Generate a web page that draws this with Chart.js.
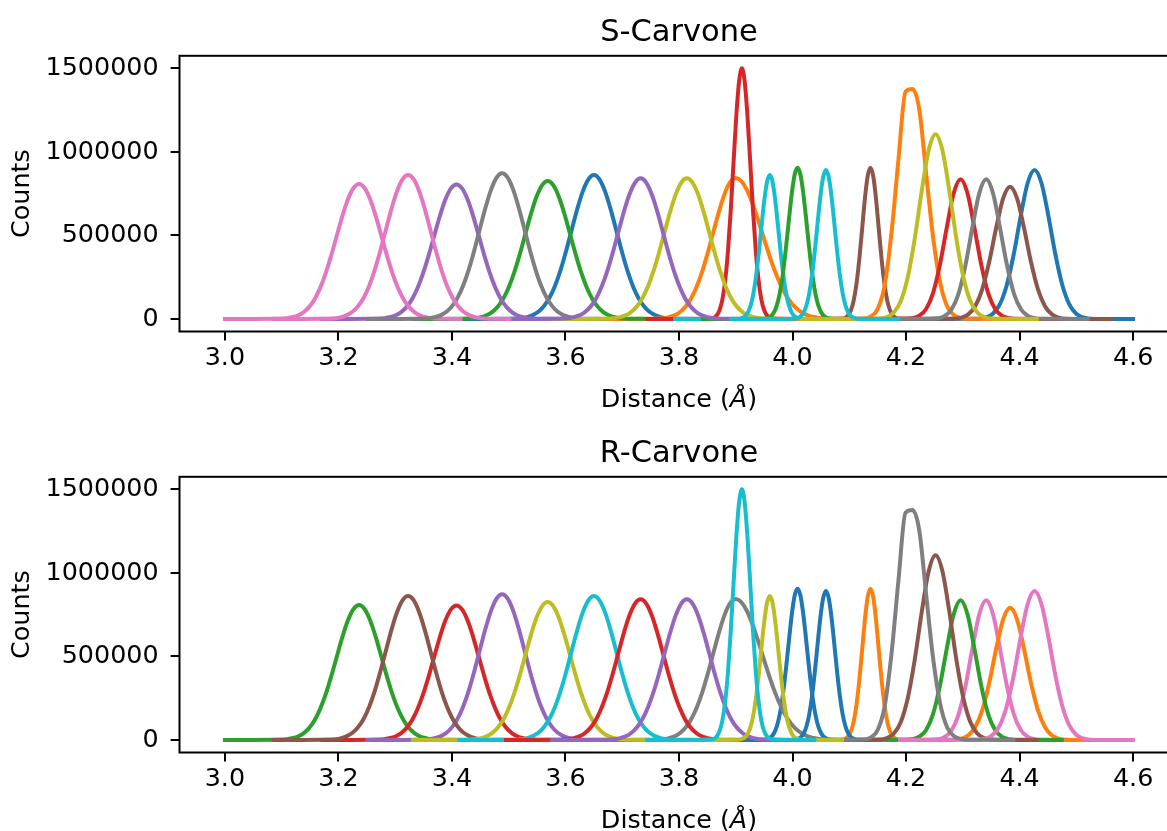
<!DOCTYPE html>
<html>
<head>
<meta charset="utf-8">
<title>S-Carvone / R-Carvone distance histograms</title>
<script src="https://cdn.jsdelivr.net/npm/chart.js@4.4.1/dist/chart.umd.min.js"></script>
<style>
  html, body { margin: 0; padding: 0; background: #fff; width: 1167px; height: 831px; overflow: hidden; }
  canvas { position: absolute; left: 0; }
  #sChart { top: 0; }
  #rChart { top: 421px; }
</style>
</head>
<body>
<canvas id="sChart" width="1200" height="421"></canvas>
<canvas id="rChart" width="1200" height="421"></canvas>
<script>
// ==========================================
// DATA: distance histograms, one curve per atom pair
// ==========================================
// first bin centre (Å) and bin width of every curve
const binStart = [3.1090, 3.1953, 3.2806, 3.3610, 3.4413, 3.5227, 3.6050, 3.6864, 3.7725, 3.8569,
                  3.9060, 3.9501, 4.0050, 4.0883, 4.1255, 4.1540, 4.1981, 4.2432, 4.2853, 4.3284];
const binStep = [0.0098, 0.0098, 0.0098, 0.0098, 0.0098, 0.0098, 0.0098, 0.0098, 0.0098, 0.0049,
                 0.0049, 0.0049, 0.0049, 0.0049, 0.01225, 0.01225, 0.01225, 0.01225, 0.01225, 0.01225];
// where the flat zero tails of each curve begin and end (Å)
const lineFrom = [3.0000, 3.0856, 3.1708, 3.2512, 3.3316, 3.4129, 3.4953, 3.5766, 3.6629, 3.7442,
                  3.7932, 3.8422, 3.8922, 3.9706, 3.9736, 4.0148, 4.0589, 4.1040, 4.1461, 4.1893];
const lineTo = [3.4149, 3.5011, 3.5864, 3.6668, 3.7472, 3.8285, 3.9109, 3.9922, 4.0785, 4.0383,
                4.0873, 4.1363, 4.1863, 4.2647, 4.3892, 4.4304, 4.4745, 4.5196, 4.5617, 4.6000];

// counts per bin
const counts01 = [5000, 11000, 21000, 40000, 71000, 118000, 186000, 274000, 382000, 500000, 617000, 717000, 784000, 808000, 783000, 716000, 616000, 499000, 381000, 273000, 185000, 118000, 71000, 40000, 21000, 11000, 5000];
const counts02 = [5000, 11000, 23000, 43000, 76000, 126000, 198000, 293000, 407000, 533000, 658000, 764000, 836000, 862000, 837000, 765000, 659000, 534000, 408000, 293000, 199000, 127000, 76000, 43000, 23000, 11000, 5000];
const counts03 = [5000, 11000, 21000, 40000, 71000, 118000, 185000, 274000, 381000, 499000, 615000, 715000, 782000, 806000, 782000, 715000, 616000, 499000, 381000, 274000, 186000, 118000, 71000, 40000, 21000, 11000, 5000];
const counts04 = [5000, 12000, 23000, 43000, 77000, 128000, 201000, 296000, 412000, 540000, 666000, 773000, 846000, 872000, 846000, 773000, 665000, 539000, 411000, 296000, 200000, 128000, 77000, 43000, 23000, 12000, 5000];
const counts05 = [5000, 11000, 22000, 41000, 73000, 121000, 190000, 281000, 390000, 511000, 631000, 733000, 802000, 826000, 801000, 732000, 630000, 510000, 390000, 280000, 190000, 121000, 73000, 41000, 22000, 11000, 5000];
const counts06 = [5000, 11000, 23000, 43000, 76000, 127000, 198000, 292000, 407000, 533000, 658000, 764000, 836000, 862000, 836000, 764000, 658000, 533000, 407000, 292000, 198000, 126000, 76000, 43000, 23000, 11000, 5000];
const counts07 = [5000, 11000, 22000, 42000, 74000, 123000, 194000, 286000, 398000, 521000, 643000, 747000, 817000, 842000, 817000, 747000, 643000, 521000, 398000, 286000, 194000, 123000, 74000, 42000, 22000, 11000, 5000];
const counts08 = [5000, 11000, 22000, 42000, 74000, 124000, 194000, 286000, 397000, 520000, 642000, 746000, 817000, 842000, 818000, 748000, 644000, 522000, 398000, 286000, 193000, 123000, 74000, 42000, 22000, 11000, 5000];
const counts09 = [5000, 11000, 22000, 42000, 74000, 124000, 194000, 287000, 399000, 522000, 644000, 749000, 819000, 844000, 826000, 774000, 694000, 596000, 490000, 386000, 291000, 210000, 145000, 96000, 61000, 37000, 21000, 12000, 6000, 3000];
const counts10 = [3000, 8000, 22000, 54000, 117000, 231000, 408000, 652000, 939000, 1218000, 1423000, 1501000, 1422000, 1217000, 938000, 651000, 407000, 230000, 116000, 53000, 22000, 8000, 3000];
const counts11 = [2000, 6000, 15000, 35000, 74000, 142000, 247000, 387000, 549000, 706000, 820000, 862000, 821000, 707000, 550000, 388000, 248000, 143000, 75000, 35000, 15000, 6000, 2000];
const counts12 = [2000, 5000, 12000, 27000, 57000, 109000, 191000, 307000, 453000, 613000, 762000, 868000, 906000, 867000, 761000, 612000, 452000, 306000, 190000, 108000, 57000, 27000, 12000, 5000, 2000];
const counts13 = [2000, 7000, 17000, 39000, 82000, 154000, 263000, 409000, 575000, 734000, 849000, 892000, 849000, 734000, 575000, 409000, 263000, 154000, 82000, 39000, 17000, 7000, 2000];
const counts14 = [3000, 8000, 22000, 53000, 113000, 214000, 360000, 538000, 719000, 855000, 906000, 855000, 719000, 538000, 360000, 214000, 113000, 53000, 22000, 8000, 3000];
const counts15 = [3000, 14000, 60000, 200000, 520000, 960000, 1361000, 1377000, 1251000, 860000, 480000, 215000, 75000, 22000, 6000, 1000];
const counts16 = [3000, 12000, 39000, 108000, 250000, 479000, 763000, 1008000, 1106000, 1008000, 763000, 479000, 250000, 108000, 39000, 12000, 3000];
const counts17 = [1000, 4000, 18000, 57000, 150000, 319000, 544000, 751000, 836000, 751000, 544000, 319000, 150000, 57000, 18000, 4000, 1000];
const counts18 = [1000, 4000, 17000, 56000, 149000, 318000, 545000, 752000, 836000, 750000, 543000, 320000, 151000, 58000, 18000, 5000, 1000];
const counts19 = [2000, 8000, 28000, 78000, 179000, 343000, 546000, 722000, 792000, 722000, 546000, 343000, 179000, 78000, 28000, 8000, 2000];
const counts20 = [2000, 9000, 31000, 87000, 202000, 386000, 615000, 813000, 892000, 813000, 615000, 386000, 202000, 87000, 31000, 9000, 2000];

// order in which the curves were plotted (curve numbers), one list per molecule
const sPlotOrder = [6, 9, 5, 10, 3, 14, 1, 4, 8, 11, 20, 15, 12, 17, 7, 19, 2, 18, 16, 13];
const rPlotOrder = [12, 14, 1, 3, 4, 2, 18, 9, 5, 6, 13, 19, 17, 7, 8, 16, 20, 15, 11, 10];

const xTicks = [3.0, 3.2, 3.4, 3.6, 3.8, 4.0, 4.2, 4.4, 4.6];
const yTicks = [0, 500000, 1000000, 1500000];

// ==========================================
// STYLE (matplotlib look)
// ==========================================
const FONT = '"DejaVu Sans", sans-serif';
const palette = ['#1f77b4', '#ff7f0e', '#2ca02c', '#d62728', '#9467bd',
                 '#8c564b', '#e377c2', '#7f7f7f', '#bcbd22', '#17becf'];
const allCounts = [counts01, counts02, counts03, counts04, counts05, counts06, counts07,
  counts08, counts09, counts10, counts11, counts12, counts13, counts14, counts15, counts16,
  counts17, counts18, counts19, counts20];

// axis limits like matplotlib's 5% margins
const dataMinX = Math.min(...lineFrom), dataMaxX = Math.max(...lineTo);
const dataMaxY = Math.max(...allCounts.map(c => Math.max(...c)));
const xMin = dataMinX - 0.05 * (dataMaxX - dataMinX);
const xMax = dataMaxX + 0.05 * (dataMaxX - dataMinX);
const yMin = -0.05 * dataMaxY;
const yMax = dataMaxY * 1.05;

function curvePoints(i) {
  const pts = [{ x: lineFrom[i], y: 0 }];
  allCounts[i].forEach((v, k) => pts.push({ x: binStart[i] + k * binStep[i], y: v }));
  pts.push({ x: lineTo[i], y: 0 });
  return pts;
}

// frame, title and x label drawn the matplotlib way
const mplText = {
  id: 'mplText',
  afterDraw(chart, args, opts) {
    const { ctx, chartArea: a } = chart;
    ctx.save();
    ctx.strokeStyle = '#000';
    ctx.lineWidth = 2;
    ctx.strokeRect(a.left, a.top, a.right - a.left, a.bottom - a.top);

    const cx = (a.left + a.right) / 2;
    ctx.fillStyle = '#000';
    ctx.textBaseline = 'alphabetic';
    ctx.textAlign = 'center';
    ctx.font = '30.5px ' + FONT;
    ctx.fillText(opts.title, cx, a.top - 15);

    const parts = [
      { t: 'Distance (', f: '25.4px ' + FONT },
      { t: 'Å', f: 'italic 25.4px ' + FONT },
      { t: ')', f: '25.4px ' + FONT }
    ];
    let total = 0;
    parts.forEach(p => { ctx.font = p.f; p.w = ctx.measureText(p.t).width; total += p.w; });
    let x = cx - total / 2;
    ctx.textAlign = 'left';
    parts.forEach(p => { ctx.font = p.f; ctx.fillText(p.t, x, a.bottom + 75.5); x += p.w; });
    ctx.restore();
  }
};

function makeChart(id, title, plotOrder) {
  const datasets = plotOrder.map((n, j) => ({
    data: curvePoints(n - 1),
    borderColor: palette[j % 10],
    borderWidth: 4,
    pointRadius: 0,
    cubicInterpolationMode: 'monotone',
    fill: false,
    borderJoinStyle: 'round',
    borderCapStyle: 'square',
    order: plotOrder.length - 1 - j  // later plotted lines sit on top
  }));

  const tickFont = { family: FONT, size: 25.4, lineHeight: 1 };
  const grid = { drawOnChartArea: false, drawTicks: true, tickLength: 8.9, color: '#000', lineWidth: 2 };

  return new Chart(document.getElementById(id), {
    type: 'line',
    data: { datasets },
    plugins: [mplText],
    options: {
      responsive: false,
      animation: false,
      events: [],
      layout: { padding: { top: 55.8, right: 21.5, bottom: 0, left: 0 } },
      plugins: {
        legend: { display: false },
        tooltip: { enabled: false },
        mplText: { title }
      },
      scales: {
        x: {
          type: 'linear',
          min: xMin,
          max: xMax,
          afterBuildTicks: s => { s.ticks = xTicks.map(v => ({ value: v })); },
          afterFit: s => { s.height = 89.5; },
          border: { display: false },
          grid,
          ticks: { color: '#000', font: tickFont, padding: 4.9, maxRotation: 0, autoSkip: false,
                   callback: v => v.toFixed(1) }
        },
        y: {
          type: 'linear',
          min: yMin,
          max: yMax,
          afterBuildTicks: s => { s.ticks = yTicks.map(v => ({ value: v })); },
          afterFit: s => { s.width = 179.5; },
          border: { display: false },
          grid,
          ticks: { color: '#000', font: tickFont, padding: 12, autoSkip: false,
                   callback: v => String(v) },
          title: { display: true, text: 'Counts', color: '#000', font: tickFont,
                   padding: { top: 10, bottom: 0 } }
        }
      }
    }
  });
}

makeChart('sChart', 'S-Carvone', sPlotOrder);
makeChart('rChart', 'R-Carvone', rPlotOrder);
</script>
</body>
</html>
